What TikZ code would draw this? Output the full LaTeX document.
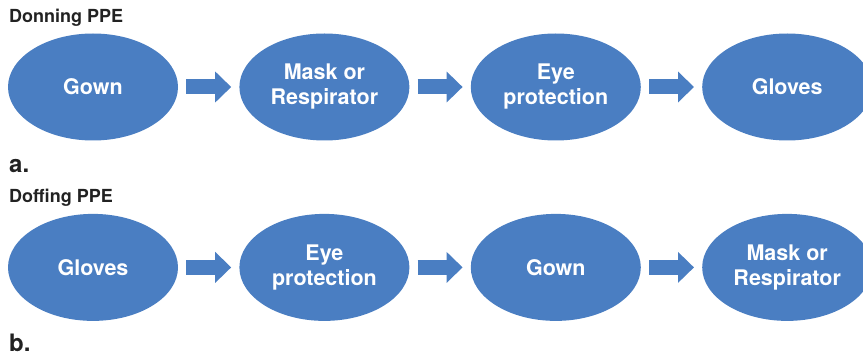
\documentclass[tikz,border=0pt]{standalone}
\usepackage{fontspec}
\setmainfont{TeX Gyre Heros}
\usetikzlibrary{positioning,shapes.geometric,arrows.meta}
\definecolor{ppeblue}{HTML}{4A7EC2}
\definecolor{ppetext}{HTML}{222222}

\begin{document}
\begin{tikzpicture}[x=1pt,y=1pt,
oval/.style={ellipse,fill=ppeblue,minimum width=170pt,minimum height=107pt,
    inner sep=0pt,text=white,align=center,font=\fontsize{21.5}{25}\selectfont\bfseries},
flow/.style={ppeblue,line width=15pt,shorten <=8pt,shorten >=8pt,
    -{Triangle[length=16pt,width=30pt]}},
heading/.style={anchor=base west,inner sep=0pt,text=ppetext,font=\fontsize{18}{20}\selectfont\bfseries},
tag/.style={anchor=base west,inner sep=0pt,text=ppetext,font=\fontsize{24}{26}\selectfont\bfseries}]
\clip (0,0) rectangle (863,-358);
\useasboundingbox (0,0) rectangle (863,-358);

% donning
\node (don) [heading] at (9,-23) {Donning PPE};
\node (gown) [oval] at (93,-87) {Gown};
\node (mask) [oval,right=61pt of gown] {Mask or\\Respirator};
\node (eye) [oval,right=61pt of mask] {Eye\\protection};
\node (glove) [oval,right=61pt of eye] {Gloves};
\node (la) [tag] at (9,-173) {a.};
\draw [flow] (gown) -- (mask);
\draw [flow] (mask) -- (eye);
\draw [flow] (eye) -- (glove);

% doffing
\node (doff) [heading] at (9,-203) {Doffing PPE};
\node (gloveb) [oval,below=73pt of gown] {Gloves};
\node (eyeb) [oval,right=61pt of gloveb] {Eye\\protection};
\node (gownb) [oval,right=61pt of eyeb] {Gown};
\node (maskb) [oval,right=61pt of gownb] {Mask or\\Respirator};
\node (lb) [tag] at (9,-352) {b.};
\draw [flow] (gloveb) -- (eyeb);
\draw [flow] (eyeb) -- (gownb);
\draw [flow] (gownb) -- (maskb);
\end{tikzpicture}
\end{document}
